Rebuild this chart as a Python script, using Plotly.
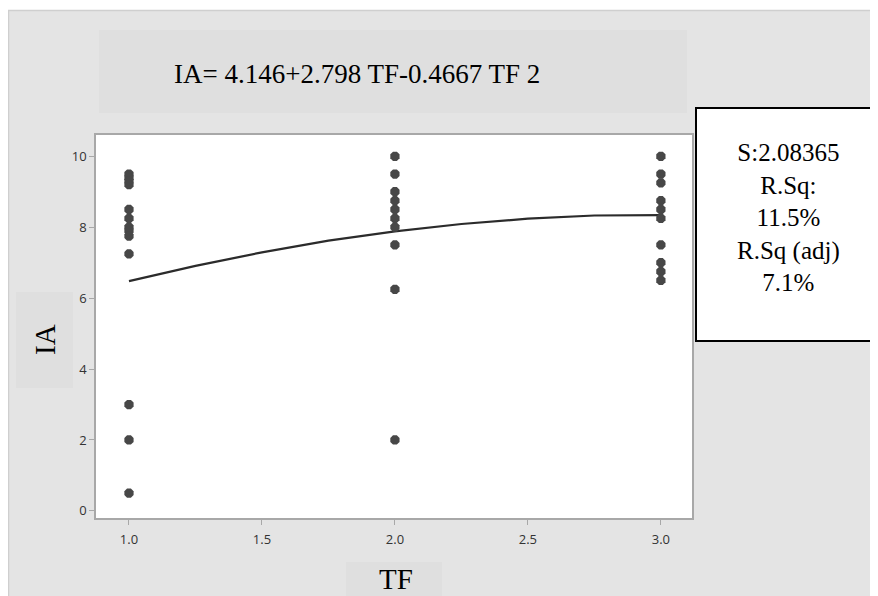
import plotly.graph_objects as go

# ---- data ----
tf_values = [1]*13 + [2]*10 + [3]*10
ia_values = [9.5, 9.4, 9.3, 9.2, 8.5, 8.25, 8.0, 7.9, 7.75, 7.25, 3.0, 2.0, 0.5,
             10.0, 9.5, 9.0, 8.75, 8.5, 8.25, 8.0, 7.5, 6.25, 2.0,
             10.0, 9.5, 9.25, 8.75, 8.5, 8.25, 7.5, 7.0, 6.75, 6.5]
fit_tf = [1.0, 1.25, 1.5, 1.75, 2.0, 2.25, 2.5, 2.75, 3.0]
fit_ia = [6.48, 6.91, 7.29, 7.62, 7.88, 8.09, 8.24, 8.33, 8.34]

title_text = "IA= 4.146+2.798 TF-0.4667 TF 2"
stats_lines = ["S:2.08365", "R.Sq:", "11.5%", "R.Sq (adj)", "7.1%"]
x_ticks = [1.0, 1.5, 2.0, 2.5, 3.0]
y_ticks = [0, 2, 4, 6, 8, 10]

OFF = 8  # page body margin
W, H = 878 - OFF, 596 - OFF
L, R, T, B = 96 - OFF, 692 - OFF, 135 - OFF, 518 - OFF


def px(x):
    return (x - OFF - L) / (R - L)


def py(y):
    return (B - (y - OFF)) / (B - T)


fig = go.Figure()
fig.add_trace(go.Scatter(x=fit_tf, y=fit_ia, mode="lines",
                         line=dict(color="#2b2b2b", width=2.2),
                         showlegend=False, hoverinfo="skip"))
fig.add_trace(go.Scatter(x=tf_values, y=ia_values, mode="markers",
                         marker=dict(symbol="octagon", size=10, color="#474747",
                                     line=dict(width=0)),
                         showlegend=False))

shapes = []
# white strip above grey panel
shapes.append(dict(type="rect", xref="paper", yref="paper", x0=px(0), x1=px(900), y0=py(0), y1=py(10),
                   fillcolor="white", line=dict(width=0), layer="below"))
# panel border lines
shapes.append(dict(type="line", xref="paper", yref="paper", x0=px(8), x1=px(900), y0=py(10.5), y1=py(10.5),
                   line=dict(color="#cfcfcf", width=1.5), layer="below"))
shapes.append(dict(type="line", xref="paper", yref="paper", x0=px(8.5), x1=px(8.5), y0=py(10), y1=py(600),
                   line=dict(color="#cfcfcf", width=1.5), layer="below"))
# title box
shapes.append(dict(type="rect", xref="paper", yref="paper", x0=px(99), x1=px(687), y0=py(30), y1=py(113),
                   fillcolor="#dfdfdf", line=dict(width=0), layer="below"))
# y label box
shapes.append(dict(type="rect", xref="paper", yref="paper", x0=px(16), x1=px(73), y0=py(292), y1=py(388),
                   fillcolor="#dfdfdf", line=dict(width=0), layer="below"))
# x label box
shapes.append(dict(type="rect", xref="paper", yref="paper", x0=px(346), x1=px(442), y0=py(562), y1=py(600),
                   fillcolor="#dfdfdf", line=dict(width=0), layer="below"))
# stats box
shapes.append(dict(type="rect", xref="paper", yref="paper", x0=px(696), x1=px(890), y0=py(108), y1=py(341),
                   fillcolor="white", line=dict(color="black", width=2), layer="above"))

annotations = []
serif = "Liberation Serif, Times New Roman, serif"
annotations.append(dict(text=title_text, xref="paper", yref="paper", x=px(357), y=py(74),
                        showarrow=False, xanchor="center", yanchor="middle",
                        font=dict(family=serif, size=27, color="black")))
annotations.append(dict(text="IA", xref="paper", yref="paper", x=px(45), y=py(340), textangle=-90,
                        showarrow=False, xanchor="center", yanchor="middle",
                        font=dict(family=serif, size=29, color="black")))
annotations.append(dict(text="TF", xref="paper", yref="paper", x=px(396), y=py(579),
                        showarrow=False, xanchor="center", yanchor="middle",
                        font=dict(family=serif, size=29, color="black")))
annotations.append(dict(text="<br>".join(stats_lines), xref="paper", yref="paper", x=px(788), y=py(217),
                        showarrow=False, xanchor="center", yanchor="middle", align="center",
                        font=dict(family=serif, size=25, color="black")))

tick_font = dict(family="Open Sans, DejaVu Sans, sans-serif", size=13, color="#333333")
fig.update_layout(
    width=W, height=H,
    margin=dict(l=L, r=W - R, t=T, b=H - B, pad=0),
    paper_bgcolor="#e4e4e4",
    plot_bgcolor="white",
    shapes=shapes,
    annotations=annotations,
    xaxis=dict(range=[0.876, 3.117], tickvals=x_ticks, tickformat=".1f",
               showgrid=False, zeroline=False, showline=True, linecolor="#a8a8a8", linewidth=1.5,
               mirror=True, ticks="outside", ticklen=5, tickcolor="#a8a8a8", tickfont=tick_font,
               ticklabelstandoff=4),
    yaxis=dict(range=[-0.2, 10.6], tickvals=y_ticks,
               showgrid=False, zeroline=False, showline=True, linecolor="#a8a8a8", linewidth=1.5,
               mirror=True, ticks="outside", ticklen=5, tickcolor="#a8a8a8", tickfont=tick_font),
)

fig.write_html("out.html")
